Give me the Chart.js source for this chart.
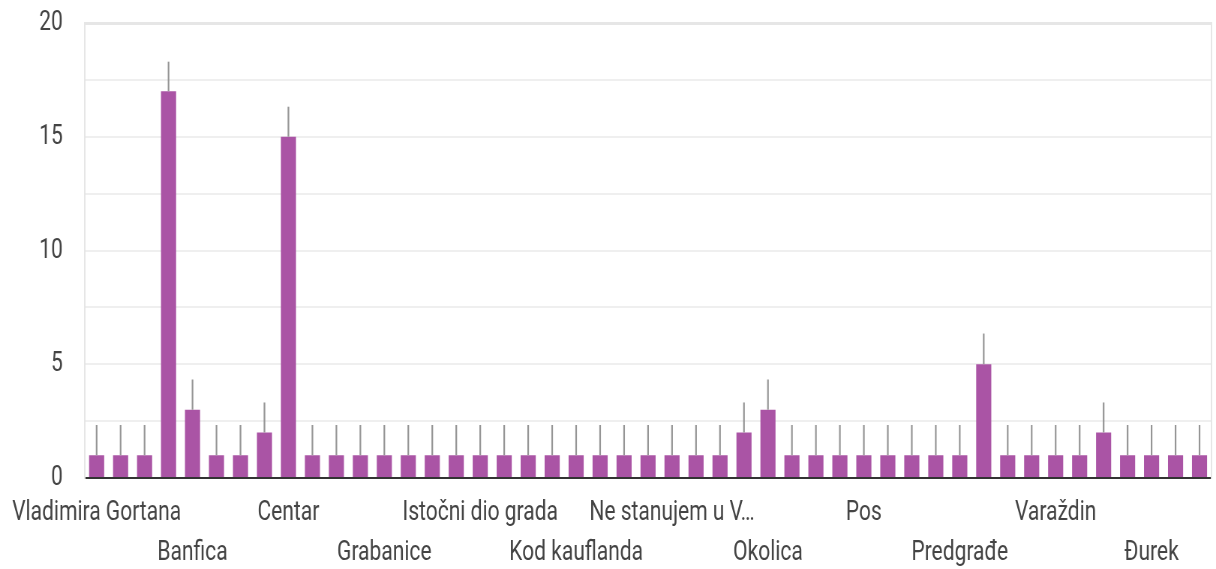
<!DOCTYPE html>
<html>
<head>
<meta charset="utf-8">
<script src="https://cdn.jsdelivr.net/npm/chart.js@4/dist/chart.umd.min.js"></script>
<style>
  html, body { margin: 0; padding: 0; background: #fff; overflow: hidden; }
</style>
</head>
<body>
<canvas id="c" width="1621" height="569" style="display:block;width:1216px;height:569px;"></canvas>
<script>
// ---- DATA ----
const categories = [
  'Vladimira Gortana', '', '', '',
  'Banfica', '', '', '',
  'Centar', '', '', '',
  'Grabanice', '', '', '',
  'Istočni dio grada', '', '', '',
  'Kod kauflanda', '', '', '',
  'Ne stanujem u V…', '', '', '',
  'Okolica', '', '', '',
  'Pos', '', '', '',
  'Predgrađe', '', '', '',
  'Varaždin', '', '', '',
  'Đurek', '', ''
];
const values = [
  1, 1, 1, 17, 3, 1, 1, 2, 15, 1,
  1, 1, 1, 1, 1, 1, 1, 1, 1, 1,
  1, 1, 1, 1, 1, 1, 1, 2, 3, 1,
  1, 1, 1, 1, 1, 1, 1, 5, 1, 1,
  1, 1, 2, 1, 1, 1, 1
];
const errors = [
  1.33, 1.33, 1.33, 1.3, 1.33, 1.33, 1.33, 1.32, 1.32, 1.33,
  1.33, 1.33, 1.33, 1.33, 1.33, 1.33, 1.33, 1.33, 1.33, 1.33,
  1.33, 1.33, 1.33, 1.33, 1.33, 1.33, 1.33, 1.32, 1.33, 1.33,
  1.33, 1.33, 1.33, 1.33, 1.33, 1.33, 1.33, 1.35, 1.33, 1.33,
  1.33, 1.33, 1.32, 1.33, 1.33, 1.33, 1.33
];
const yTickLabels = [0, 5, 10, 15, 20];

// ---- PLUGIN: error bars ----
const errorBars = {
  id: 'errorBars',
  afterDatasetsDraw(chart) {
    const meta = chart.getDatasetMeta(0);
    const ys = chart.scales.y;
    const ctx = chart.ctx;
    ctx.save();
    ctx.strokeStyle = '#959595';
    ctx.lineWidth = 2.2;
    meta.data.forEach((bar, i) => {
      const v = values[i];
      const e = errors[i];
      ctx.beginPath();
      ctx.moveTo(bar.x, ys.getPixelForValue(v));
      ctx.lineTo(bar.x, ys.getPixelForValue(v + e));
      ctx.stroke();
    });
    ctx.restore();
  }
};

const FONT = { family: 'Roboto, "Liberation Sans", Arial, sans-serif', size: 28 };

new Chart(document.getElementById('c'), {
  type: 'bar',
  data: {
    labels: categories,
    datasets: [{
      data: values,
      backgroundColor: '#aa54a5',
      borderWidth: 0,
      categoryPercentage: 1,
      barPercentage: 0.63
    }]
  },
  options: {
    responsive: false,
    devicePixelRatio: 1,
    animation: false,
    layout: { padding: { top: 23, right: 6, left: 0, bottom: 0 } },
    plugins: { legend: { display: false }, tooltip: { enabled: false } },
    scales: {
      x: {
        offset: true,
        grid: { display: false, drawTicks: false },
        border: { display: true, color: '#333333', width: 2 },
        ticks: {
          autoSkip: false,
          maxRotation: 0,
          minRotation: 0,
          padding: 15,
          color: '#444444',
          font: { ...FONT, lineHeight: 40 / 28 },
          callback: function (value, index) {
            const lab = categories[index];
            if (!lab) return null;
            let order = 0;
            for (let i = 0; i < index; i++) if (categories[i]) order++;
            return order % 2 === 0 ? lab : ['', lab];
          }
        },
        afterFit(scale) { scale.height = 91; }
      },
      y: {
        min: 0,
        max: 20,
        grid: {
          drawTicks: false,
          color: (c) => c.tick && c.tick.value === 0 ? '#333333' : (c.tick && c.tick.value === 20 ? '#e6e6e6' : '#efefef'),
          lineWidth: (c) => c.tick && c.tick.value === 20 ? 3 : 2
        },
        border: { display: true, color: '#e6e6e6', width: 2 },
        ticks: {
          stepSize: 2.5,
          padding: 29,
          color: '#444444',
          font: FONT,
          callback: (v) => yTickLabels.includes(v) ? String(v) : ''
        },
        afterFit(scale) {
          scale.width = 109;
          scale.paddingTop = 0;
          scale.paddingBottom = 0;
        }
      },
      y2: {
        position: 'right',
        display: true,
        grid: { display: false, drawTicks: false },
        border: { display: true, color: '#e6e6e6', width: 2 },
        ticks: { display: false },
        afterFit(scale) { scale.width = 0; scale.paddingTop = 0; scale.paddingBottom = 0; }
      }
    }
  },
  plugins: [errorBars]
});
</script>
</body>
</html>
